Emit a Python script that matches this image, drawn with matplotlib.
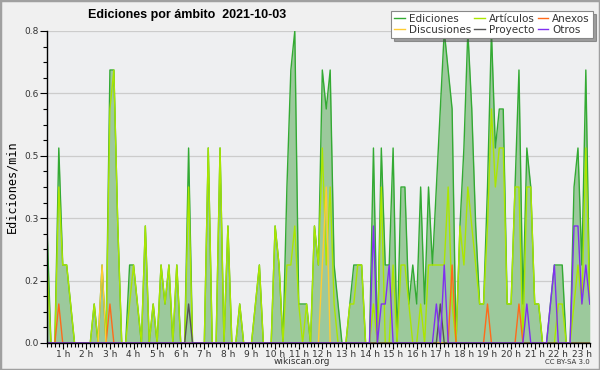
import numpy as np
import matplotlib
matplotlib.use("Agg")
import matplotlib.pyplot as plt
from matplotlib.patches import Rectangle
from matplotlib.ticker import FixedLocator, MultipleLocator, FormatStrFormatter

# bins de 10 minutos, desde las 00:20 hasta las 23:20
inicio_min = 20
paso_min = 10

# ediciones/min, una fila por hora
ediciones = [
    0.3, 0, 0, 0.5,                  # 0 h (desde 00:20)
    0.2, 0.2, 0.1, 0, 0, 0,          # 1 h
    0, 0, 0.1, 0, 0.2, 0,            # 2 h
    0.7, 0.7, 0.3, 0, 0, 0.2,        # 3 h
    0.2, 0.1, 0, 0.3, 0, 0.1,        # 4 h
    0, 0.2, 0.1, 0.2, 0, 0.2,        # 5 h
    0, 0, 0.5, 0, 0, 0,              # 6 h
    0, 0.5, 0, 0, 0.5, 0,            # 7 h
    0.3, 0, 0, 0.1, 0, 0,            # 8 h
    0, 0.1, 0.2, 0, 0, 0,            # 9 h
    0.3, 0.2, 0, 0.4, 0.7, 0.8,      # 10 h
    0.1, 0.1, 0.1, 0, 0.3, 0.2,      # 11 h
    0.7, 0.6, 0.7, 0.2, 0.1, 0,      # 12 h
    0, 0.1, 0.2, 0.2, 0.2, 0,        # 13 h
    0, 0.5, 0, 0.5, 0.2, 0.2,        # 14 h
    0.5, 0, 0.4, 0.4, 0.1, 0.2,      # 15 h
    0.1, 0.4, 0.1, 0.4, 0.2, 0.4,    # 16 h
    0.6, 0.8, 0.7, 0.6, 0, 0.3,      # 17 h
    0.5, 0.8, 0.6, 0.3, 0.1, 0.1,    # 18 h
    0.4, 0.8, 0.5, 0.6, 0.6, 0.1,    # 19 h
    0.1, 0.4, 0.7, 0.1, 0.5, 0.4,    # 20 h
    0.1, 0.1, 0, 0, 0.1, 0.2,        # 21 h
    0.2, 0.2, 0, 0, 0.4, 0.5,        # 22 h
    0.2, 0.7, 0.1,                   # 23 h
]

articulos = [
    0.2, 0, 0, 0.4,
    0.2, 0.2, 0.1, 0, 0, 0,
    0, 0, 0.1, 0, 0, 0,
    0.6, 0.7, 0.3, 0, 0, 0.1,
    0.2, 0.1, 0, 0.3, 0, 0.1,
    0, 0.2, 0.1, 0.2, 0, 0.2,
    0, 0, 0.4, 0, 0, 0,
    0, 0.5, 0, 0, 0.5, 0,
    0.3, 0, 0, 0.1, 0, 0,
    0, 0.1, 0.2, 0, 0, 0,
    0.3, 0.2, 0, 0.2, 0.2, 0.3,
    0.1, 0, 0.1, 0, 0.3, 0.2,
    0.5, 0.2, 0.4, 0.1, 0, 0,
    0, 0.1, 0.1, 0.2, 0.2, 0,
    0, 0.1, 0, 0.4, 0, 0,
    0.2, 0, 0.2, 0.2, 0.1, 0,
    0, 0.1, 0, 0.2, 0.2, 0.2,
    0.2, 0.2, 0.4, 0.1, 0, 0.3,
    0.2, 0.4, 0.3, 0.2, 0.1, 0.1,
    0.3, 0.6, 0.4, 0.5, 0.5, 0.1,
    0.1, 0.4, 0.4, 0, 0.4, 0.4,
    0.1, 0.1, 0, 0, 0, 0,
    0.1, 0.1, 0, 0, 0.1, 0.2,
    0.1, 0.5, 0.1,
]

# series casi vacias: solo los bins distintos de cero
discusiones = {"02:40": 0.2, "12:00": 0.2, "12:10": 0.4}
anexos = {"00:50": 0.1, "03:00": 0.1, "17:30": 0.2, "19:00": 0.1, "20:20": 0.1}
proyecto = {"06:20": 0.1, "17:00": 0.1}
otros = {"14:10": 0.3, "14:30": 0.1, "14:40": 0.1, "14:50": 0.2,
         "16:50": 0.1, "17:10": 0.2, "20:40": 0.1, "21:40": 0.1,
         "21:50": 0.2, "22:40": 0.3, "22:50": 0.3, "23:00": 0.1,
         "23:10": 0.2, "23:20": 0.1}

etiquetas_horas = [f"{h} h" for h in range(1, 24)]

n = len(ediciones)
t = (inicio_min + paso_min * np.arange(n)) / 60.0


def densa(d):
    s = np.zeros(n)
    for hhmm, v in d.items():
        h, m = hhmm.split(":")
        s[(int(h) * 60 + int(m) - inicio_min) // paso_min] = v
    return s


fig = plt.figure(figsize=(6, 3.7), dpi=100, facecolor="#f0f0f0")
fig.patches.append(Rectangle((0, 0), 1, 1, transform=fig.transFigure,
                             fill=False, edgecolor="#a0a0a0", linewidth=2.5))
ax = fig.add_axes([47 / 600, 27 / 370, 543 / 600, 312 / 370])
ax.set_facecolor("#eeeff1")

ax.fill_between(t, ediciones, color="#9cc99c", linewidth=0, zorder=2)
ax.plot(t, ediciones, color="#33aa33", lw=1.0, zorder=3, label="Ediciones")
ax.plot(t, articulos, color="#aae600", lw=1.0, zorder=4, label="Artículos")
ax.plot(t, densa(anexos), color="#ff6a1a", lw=1.0, zorder=5, label="Anexos")
ax.plot(t, densa(discusiones), color="#ffcc33", lw=1.0, zorder=5, label="Discusiones")
ax.plot(t, densa(proyecto), color="#555555", lw=1.0, zorder=5, label="Proyecto")
ax.plot(t, densa(otros), color="#8030f0", lw=1.0, zorder=5, label="Otros")

ax.set_xlim(t[0], t[-1] + 0.01)
ax.set_ylim(0, 0.8)

ax.yaxis.set_major_locator(FixedLocator(np.linspace(0, 0.8, 6)))
ax.yaxis.set_major_formatter(FormatStrFormatter("%.1f"))
ax.yaxis.set_minor_locator(MultipleLocator(0.04))
ax.xaxis.set_major_locator(FixedLocator(range(1, 24)))
ax.set_xticklabels(etiquetas_horas)
ax.xaxis.set_minor_locator(MultipleLocator(paso_min / 60))

ax.tick_params(axis="both", which="both", direction="out", colors="black",
               labelcolor="#333333", labelsize=6.5, width=0.8)
ax.tick_params(axis="y", which="major", length=5, pad=1)
ax.tick_params(axis="y", which="minor", length=3)
ax.tick_params(axis="x", which="major", length=4, pad=1)
ax.tick_params(axis="x", which="minor", length=3)

ax.grid(axis="y", which="major", color="#cccccc", lw=0.9, zorder=1)
ax.set_axisbelow(True)
for s in ["top", "right"]:
    ax.spines[s].set_visible(False)
for s in ["left", "bottom"]:
    ax.spines[s].set_linewidth(1.0)
    ax.spines[s].set_zorder(10)

ax.set_ylabel("Ediciones/min", family="DejaVu Sans Mono", fontsize=8.5, labelpad=4)

h, l = ax.get_legend_handles_labels()
orden = [0, 3, 1, 4, 2, 5]
leg = ax.legend([h[i] for i in orden], [l[i] for i in orden], ncol=3,
                loc="upper right", bbox_to_anchor=(593 / 600, 1 - 11 / 370),
                bbox_transform=fig.transFigure, fontsize=7.5, frameon=True,
                fancybox=False, shadow=True, handlelength=1.0, handletextpad=0.4,
                columnspacing=0.3, labelspacing=0.05, borderpad=0.3,
                borderaxespad=0)
leg.get_frame().set_edgecolor("#888888")
leg.get_frame().set_linewidth(0.8)
leg.set_zorder(20)
for txt in leg.get_texts():
    txt.set_color("#333333")

fig.text(187 / 600, 1 - 15 / 370, "Ediciones por ámbito  2021-10-03",
         ha="center", va="center", fontsize=9, fontweight="bold",
         family="Liberation Sans")
fig.text(302 / 600, 1 - 362 / 370, "wikiscan.org", ha="center", va="center",
         fontsize=6.5, color="#333333")
fig.text(590 / 600, 1 - 362 / 370, "CC BY-SA 3.0", ha="right", va="center",
         fontsize=5, color="#333333")

fig.savefig("out.png", dpi=100, facecolor=fig.get_facecolor())
